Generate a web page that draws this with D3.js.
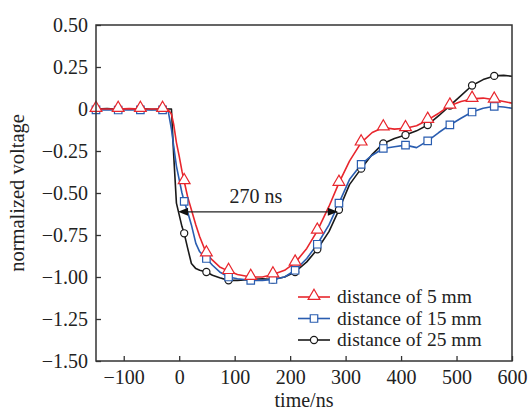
<!DOCTYPE html>
<html>
<head>
<meta charset="utf-8">
<script src="https://cdn.jsdelivr.net/npm/d3@7"></script>
<style>
  body { margin: 0; background: #fff; }
  text { font-family: "Liberation Serif", "Times New Roman", serif; fill: #222; }
</style>
</head>
<body>
<div id="chart"></div>
<script>
/* CONSTANTS AND GLOBALS */
const width = 528,
  height = 410,
  margin = { top: 25, bottom: 49, left: 96, right: 16 };

// time grid (ns) shared by the three traces
const times = [-150, -130, -110, -90, -70, -50, -30, -20, -14, -10, -5, 0, 5, 9, 15, 22, 30, 37, 49, 60, 73, 89, 105, 129, 150, 169, 190, 209, 230, 249, 270, 288, 307, 328, 348, 368, 388, 408, 428, 448, 468, 488, 508, 528, 548, 568, 585, 600];

// times carrying a marker
const markerTimes = [-150, -110, -70, -30, 9, 49, 89, 129, 169, 209, 249, 288, 328, 368, 408, 448, 488, 528, 568];

const volt5mm = [0, 0, 0, 0.002, 0, 0, 0, -0.005, -0.03, -0.09, -0.2, -0.28, -0.37, -0.43, -0.52, -0.6, -0.69, -0.76, -0.86, -0.9, -0.94, -0.965, -0.985, -1.0, -1.0, -0.985, -0.96, -0.915, -0.83, -0.725, -0.58, -0.44, -0.31, -0.2, -0.14, -0.11, -0.12, -0.115, -0.1, -0.065, -0.025, 0.02, 0.045, 0.06, 0.065, 0.055, 0.045, 0.035];

const volt15mm = [-0.005, -0.004, -0.006, -0.004, -0.005, -0.006, -0.005, -0.01, -0.12, -0.22, -0.34, -0.42, -0.5, -0.55, -0.61, -0.69, -0.8, -0.85, -0.89, -0.93, -0.97, -1.0, -1.01, -1.02, -1.02, -1.015, -1.0, -0.96, -0.89, -0.805, -0.69, -0.56, -0.42, -0.33, -0.275, -0.235, -0.225, -0.215, -0.23, -0.19, -0.14, -0.095, -0.055, -0.018, 0.004, 0.016, 0.012, 0.004];

const volt25mm = [0, 0.002, -0.002, 0, 0.002, -0.002, 0, 0, 0, -0.27, -0.56, -0.63, -0.7, -0.74, -0.825, -0.92, -0.95, -0.96, -0.97, -0.99, -1.005, -1.02, -1.02, -1.015, -1.01, -1.015, -1.0, -0.97, -0.91, -0.835, -0.73, -0.6, -0.45, -0.355, -0.27, -0.205, -0.175, -0.155, -0.13, -0.095, -0.04, 0.02, 0.08, 0.14, 0.175, 0.197, 0.2, 0.195];

const seriesNames = ["distance of 5 mm", "distance of 15 mm", "distance of 25 mm"];
const seriesColors = ["#e8262d", "#2a5db0", "#1a1a1a"];
const seriesShapes = [d3.symbolTriangle, d3.symbolSquare, d3.symbolCircle];

const xTicks = [-100, 0, 100, 200, 300, 400, 500, 600];
const yTicks = [0.5, 0.25, 0, -0.25, -0.5, -0.75, -1.0, -1.25, -1.5];
const yTickLabels = ["0.50", "0.25", "0", "\u22120.25", "\u22120.50", "\u22120.75", "\u22121.00", "\u22121.25", "\u22121.50"];

// pulse width annotation
const spanStart = -2, spanEnd = 286, spanLevel = -0.612, spanLabel = "270 ns";

/* SCALES */
const xScale = d3.scaleLinear()
  .domain([-150, 600])
  .range([margin.left, width - margin.right]);

const yScale = d3.scaleLinear()
  .domain([-1.5, 0.5])
  .range([height - margin.bottom, margin.top]);

const svg = d3.select("#chart")
  .append("svg")
  .attr("width", width)
  .attr("height", height);

svg.append("defs").append("clipPath")
  .attr("id", "plotClip")
  .append("rect")
  .attr("x", margin.left)
  .attr("y", margin.top)
  .attr("width", width - margin.left - margin.right)
  .attr("height", height - margin.top - margin.bottom);

/* AXES (ticks point inward) */
const xAxis = d3.axisBottom(xScale)
  .tickValues(xTicks)
  .tickSizeInner(-5)
  .tickSizeOuter(0)
  .tickPadding(9)
  .tickFormat(d => d < 0 ? "\u2212" + Math.abs(d) : d);

const yAxis = d3.axisLeft(yScale)
  .tickValues(yTicks)
  .tickSizeInner(-5)
  .tickSizeOuter(0)
  .tickPadding(8)
  .tickFormat((d, i) => yTickLabels[i]);

const gx = svg.append("g")
  .attr("transform", `translate(0, ${height - margin.bottom})`)
  .call(xAxis);

const gy = svg.append("g")
  .attr("transform", `translate(${margin.left}, 0)`)
  .call(yAxis);

[gx, gy].forEach(g => {
  g.select(".domain").remove();
  g.selectAll(".tick line").attr("stroke", "#333").attr("stroke-width", 1.3);
  g.selectAll(".tick text")
    .attr("font-size", 20)
    .attr("font-family", "'Liberation Serif', 'Times New Roman', serif")
    .attr("fill", "#222");
});

svg.append("text")
  .text("time/ns")
  .attr("x", (margin.left + width - margin.right) / 2)
  .attr("y", 407)
  .attr("text-anchor", "middle")
  .attr("font-size", 20);

svg.append("text")
  .text("normalized voltage")
  .attr("transform", `translate(24, ${(margin.top + height - margin.bottom) / 2})rotate(-90)`)
  .attr("text-anchor", "middle")
  .attr("font-size", 20.5);

/* TRACES */
const allSeries = [volt5mm, volt15mm, volt25mm];

const lineFunction = d3.line()
  .x(d => xScale(d.t))
  .y(d => yScale(d.v));

const plot = svg.append("g").attr("clip-path", "url(#plotClip)");

// draw black first, red on top
[2, 1, 0].forEach(i => {
  const pts = times.map((t, j) => ({ t: t, v: allSeries[i][j] }));
  plot.append("path")
    .datum(pts)
    .attr("fill", "none")
    .attr("stroke", seriesColors[i])
    .attr("stroke-width", 1.6)
    .attr("stroke-linejoin", "round")
    .attr("d", lineFunction);
});

const sizes = [60, 56, 40];
[2, 1, 0].forEach(i => {
  const pts = times
    .map((t, j) => ({ t: t, v: allSeries[i][j] }))
    .filter(d => markerTimes.includes(d.t));
  svg.append("g")
    .selectAll("path")
    .data(pts)
    .join("path")
    .attr("transform", d => `translate(${xScale(d.t)}, ${yScale(d.v) + (i === 0 ? -1 : 0)})`)
    .attr("d", d3.symbol().type(seriesShapes[i]).size(sizes[i]))
    .attr("fill", "#fff")
    .attr("stroke", seriesColors[i])
    .attr("stroke-width", 1.2);
});

/* ANNOTATION */
const ay = yScale(spanLevel);
const ax0 = xScale(spanStart), ax1 = xScale(spanEnd);
svg.append("line")
  .attr("x1", ax0 + 6).attr("x2", ax1 - 6)
  .attr("y1", ay).attr("y2", ay)
  .attr("stroke", "#222")
  .attr("stroke-width", 1.2);
svg.append("path")
  .attr("d", `M${ax0},${ay}L${ax0 + 10},${ay - 4}L${ax0 + 10},${ay + 4}Z`)
  .attr("fill", "#111");
svg.append("path")
  .attr("d", `M${ax1},${ay}L${ax1 - 10},${ay - 4}L${ax1 - 10},${ay + 4}Z`)
  .attr("fill", "#111");
svg.append("text")
  .text(spanLabel)
  .attr("x", (ax0 + ax1) / 2 - 2)
  .attr("y", ay - 9)
  .attr("text-anchor", "middle")
  .attr("font-size", 20);

/* FRAME */
svg.append("rect")
  .attr("x", margin.left)
  .attr("y", margin.top)
  .attr("width", width - margin.left - margin.right)
  .attr("height", height - margin.top - margin.bottom)
  .attr("fill", "none")
  .attr("stroke", "#333")
  .attr("stroke-width", 1.5);

/* LEGEND */
const legend = svg.append("g");
const legendY = [297, 318.5, 340];
[0, 1, 2].forEach(i => {
  const row = legend.append("g").attr("transform", `translate(298, ${legendY[i]})`);
  row.append("line")
    .attr("x1", 0).attr("x2", 32)
    .attr("stroke", seriesColors[i])
    .attr("stroke-width", 1.6);
  row.append("path")
    .attr("transform", `translate(16, ${i === 0 ? -1 : 0})`)
    .attr("d", d3.symbol().type(seriesShapes[i]).size(sizes[i]))
    .attr("fill", "#fff")
    .attr("stroke", seriesColors[i])
    .attr("stroke-width", 1.2);
  row.append("text")
    .text(seriesNames[i])
    .attr("x", 39)
    .attr("dy", "0.33em")
    .attr("font-size", 19.5);
});
</script>
</body>
</html>
